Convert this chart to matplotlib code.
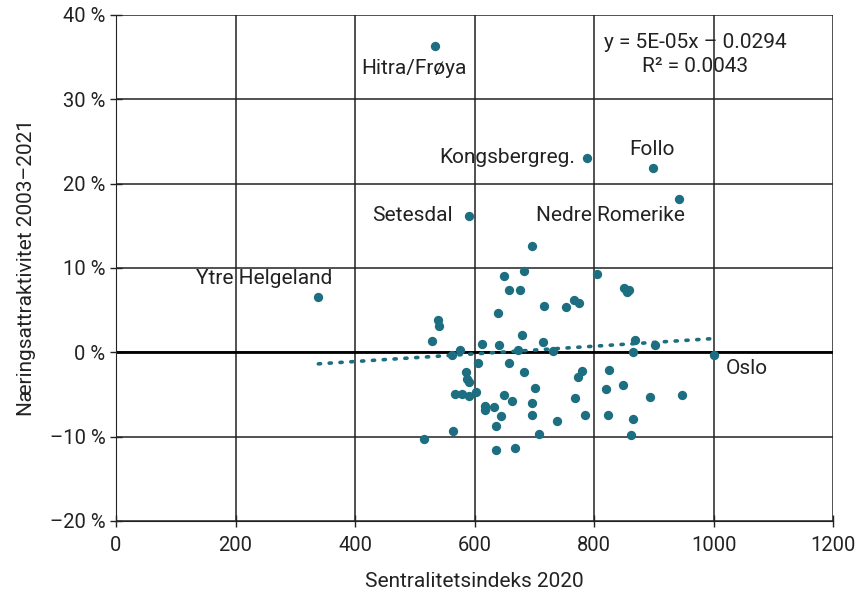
import numpy as np
import matplotlib.pyplot as plt
from matplotlib.ticker import FuncFormatter

plt.rcParams['font.family'] = ['Roboto', 'DejaVu Sans']

# sentralitetsindeks 2020 og næringsattraktivitet 2003-2021 (%)
x = [696.8, 648.9, 683.4, 658.3, 676.7, 804.5, 850.2, 859.1, 854.7, 767.1,
     775.0, 716.3, 753.1, 639.8, 539.4, 541.1, 528.4, 678.9, 715.2, 612.6,
     641.5, 868.0, 902.6, 575.7, 562.9, 672.3, 731.9, 864.5, 605.3, 658.3,
     683.4, 585.2, 586.9, 591.4, 779.4, 773.8, 824.4, 847.8, 819.4, 701.3,
     567.9, 579.6, 590.8, 602.5, 649.4, 662.2, 696.8, 768.6, 893.7, 947.8,
     618.1, 633.2, 616.9, 644.7, 696.8, 784.9, 823.4, 865.3, 738.4, 636.5,
     564.5, 708.0, 861.9, 515.5, 635.5, 668.3]
y = [12.6, 9.05, 9.6, 7.35, 7.35, 9.25, 7.6, 7.35, 7.15, 6.25,
     5.85, 5.45, 5.35, 4.65, 3.85, 3.15, 1.3, 2.1, 1.2, 1.0,
     0.8, 1.45, 0.85, 0.3, -0.3, 0.3, 0.1, 0.05, -1.3, -1.3,
     -2.3, -2.4, -3.2, -3.5, -2.2, -2.9, -2.05, -3.9, -4.35, -4.2,
     -4.95, -5.0, -5.15, -4.7, -5.1, -5.8, -6.0, -5.4, -5.3, -5.05,
     -6.35, -6.5, -6.9, -7.55, -7.45, -7.45, -7.4, -7.9, -8.1, -8.8,
     -9.35, -9.7, -9.85, -10.25, -11.6, -11.4]

# navngitte regioner
names = ['Hitra/Frøya', 'Kongsbergreg.', 'Follo', 'Nedre Romerike',
         'Setesdal', 'Ytre Helgeland', 'Oslo']
names_x = [533.9, 788.8, 898.2, 941.7, 591.4, 338.6, 1000.5]
names_y = [36.3, 23.05, 21.8, 18.15, 16.2, 6.6, -0.3]

color = '#1c6e80'
txt = '#222222'

all_x = np.array(x + names_x)
all_y = np.array(y + names_y) / 100
k, m = np.polyfit(all_x, all_y, 1)

fig = plt.figure(figsize=(8.59, 5.96), dpi=100)
ax = fig.add_axes([0.135, 0.126, 0.835, 0.849])

ax.grid(color=txt, linewidth=1.1)
ax.set_axisbelow(True)
ax.axhline(0, color='black', linewidth=2, zorder=2)

xs = np.array([all_x.min(), all_x.max()])
ax.plot(xs, (k * xs + m) * 100, color=color, linestyle=(0, (0.6, 2.4)),
        linewidth=2.6, dash_capstyle='round', zorder=3)

ax.scatter(all_x, all_y * 100, s=45, color=color, zorder=4, linewidths=0)

fs = 15
ax.text(498.7, 33.7, 'Hitra/Frøya', ha='center', va='center', fontsize=fs, color=txt)
ax.text(768, 23.1, 'Kongsbergreg.', ha='right', va='center', fontsize=fs, color=txt)
ax.text(897, 24.0, 'Follo', ha='center', va='center', fontsize=fs, color=txt)
ax.text(828, 16.25, 'Nedre Romerike', ha='center', va='center', fontsize=fs, color=txt)
ax.text(564, 16.25, 'Setesdal', ha='right', va='center', fontsize=fs, color=txt)
ax.text(247.7, 8.8, 'Ytre Helgeland', ha='center', va='center', fontsize=fs, color=txt)
ax.text(1021, -1.9, 'Oslo', ha='left', va='center', fontsize=fs, color=txt)

ax.text(0.808, 0.922, 'y = 5E-05x – 0.0294\nR² = 0.0043', transform=ax.transAxes,
        ha='center', va='center', fontsize=fs, color=txt, linespacing=1.35)

ax.set_xlim(0, 1200)
ax.set_ylim(-20, 40)
ax.set_xticks(np.arange(0, 1201, 200))
ax.set_yticks(np.arange(-20, 41, 10))
ax.yaxis.set_major_formatter(FuncFormatter(lambda v, p: f'{v:.0f} %'.replace('-', '–')))
ax.tick_params(direction='inout', length=8, width=1, labelsize=14.5, colors=txt)
ax.tick_params(axis='x', pad=7)

for side in ['top', 'right']:
    ax.spines[side].set_visible(False)
for side in ['left', 'bottom']:
    ax.spines[side].set_color(txt)

ax.set_xlabel('Sentralitetsindeks 2020', fontsize=fs, color=txt, labelpad=12)
ax.set_ylabel('Næringsattraktivitet 2003–2021', fontsize=fs, color=txt, labelpad=10)

fig.savefig('out.png', dpi=100)
